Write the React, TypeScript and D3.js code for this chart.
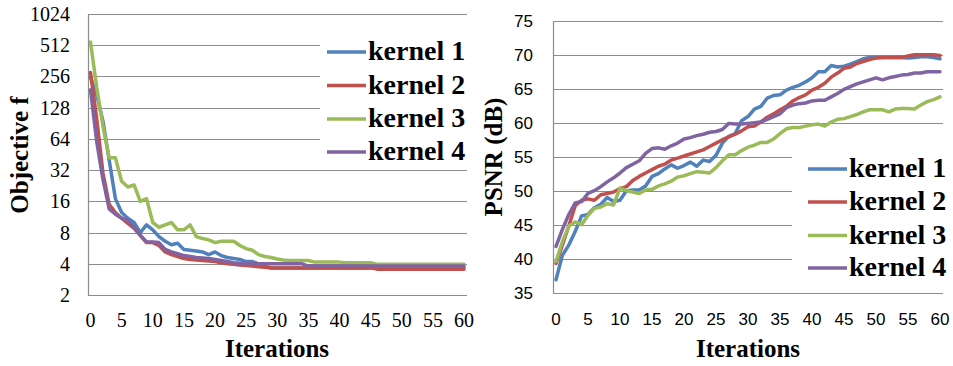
import { useEffect, useRef } from "react";
import * as d3 from "d3";

const iterations = d3.range(0, 61);
const seriesNames = ["kernel 1", "kernel 2", "kernel 3", "kernel 4"];
const seriesColors = ["#4F81BD", "#C0504D", "#9BBB59", "#8064A2"];

const iterTicks = [0, 5, 10, 15, 20, 25, 30, 35, 40, 45, 50, 55, 60];
const objTicks = [2, 4, 8, 16, 32, 64, 128, 256, 512, 1024];
const psnrTicks = [35, 40, 45, 50, 55, 60, 65, 70, 75];

// objective f, log2 axis
const objKernel1 = [
  250, 170, 95, 40, 17, 12.5, 11, 10, 8, 9.5, 8.5, 7.3, 6.6, 6.1, 6.3, 5.5, 5.4, 5.3, 5.2, 4.9,
  5.2, 4.8, 4.6, 4.5, 4.4, 4.2, 4.2, 4.0, 3.8, 3.65, 3.65, 3.65, 3.65, 3.65, 3.65, 3.65, 3.65, 3.65, 3.65, 3.65,
  3.65, 3.65, 3.65, 3.65, 3.65, 3.65, 3.7, 3.7, 3.7, 3.7, 3.7, 3.7, 3.7, 3.7, 3.7, 3.7, 3.7, 3.7, 3.7, 3.7, 3.7,
];
const objKernel2 = [
  280, 100, 30, 15, 12.5, 11, 9.8, 8.8, 7.5, 6.4, 6.4, 6.0, 5.2, 4.9, 4.7, 4.5, 4.4, 4.35, 4.3, 4.25,
  4.2, 4.1, 4.0, 3.95, 3.9, 3.85, 3.8, 3.75, 3.7, 3.65, 3.65, 3.65, 3.65, 3.65, 3.65, 3.65, 3.65, 3.65, 3.65, 3.65,
  3.65, 3.65, 3.65, 3.65, 3.65, 3.65, 3.55, 3.55, 3.55, 3.55, 3.55, 3.55, 3.55, 3.55, 3.55, 3.55, 3.55, 3.55, 3.55, 3.55, 3.55,
];
const objKernel3 = [
  550, 200, 85, 42, 42, 25, 22, 23, 16, 17, 10, 9, 9.5, 10, 8.5, 8.5, 9.5, 7.3, 7.0, 6.8,
  6.4, 6.6, 6.6, 6.6, 6.0, 5.6, 5.4, 4.9, 4.7, 4.6, 4.45, 4.35, 4.3, 4.3, 4.3, 4.3, 4.15, 4.15, 4.15, 4.15,
  4.15, 4.1, 4.1, 4.1, 4.1, 4.1, 3.95, 3.95, 3.95, 3.95, 3.95, 3.95, 3.95, 3.95, 3.95, 3.95, 3.95, 3.95, 3.95, 3.95, 3.95,
];
const objKernel4 = [
  190, 60, 26, 13.5, 12, 11, 10.5, 9, 7.5, 6.5, 6.5, 6.4, 5.5, 5.2, 5.0, 4.8, 4.7, 4.6, 4.55, 4.5,
  4.4, 4.3, 4.2, 4.1, 4.05, 4.0, 4.0, 4.0, 4.0, 4.0, 4.0, 4.0, 4.0, 4.0, 4.0, 3.8, 3.8, 3.8, 3.8, 3.8,
  3.8, 3.8, 3.8, 3.8, 3.8, 3.8, 3.8, 3.8, 3.8, 3.8, 3.8, 3.8, 3.8, 3.8, 3.8, 3.8, 3.8, 3.8, 3.8, 3.8, 3.8,
];

// PSNR (dB)
const psnrKernel1 = [
  36.9, 40.5, 42, 44, 46.3, 46.5, 47.5, 48, 49, 48.4, 48.6, 50, 50.1, 50.1, 50.7, 52.1, 52.5, 53.2, 53.8, 53.3,
  53.7, 54.2, 53.6, 54.5, 54.3, 55.2, 57, 58, 58.4, 60.3, 60.9, 62, 62.4, 63.6, 64, 64.1, 64.8, 65.2, 65.5, 66,
  66.6, 67.5, 67.5, 68.4, 68.2, 68.3, 68.6, 69, 69.4, 69.6, 69.6, 69.6, 69.6, 69.6, 69.6, 69.5, 69.6, 69.7, 69.7, 69.6, 69.4,
];
const psnrKernel2 = [
  39.3, 42, 44.8, 47.8, 48.6, 48.8, 48.6, 49.4, 49.6, 49.8, 50.3, 50.6, 51.5, 52.1, 52.6, 53.1, 53.6, 53.9, 54.5, 54.8,
  55.1, 55.4, 55.7, 56, 56.5, 57, 57.5, 57.9, 58.3, 58.8, 59.4, 59.5, 60.1, 60.8, 61.3, 61.9, 62.4, 63.2, 63.7, 64.1,
  64.8, 65.2, 65.8, 66.7, 67.3, 68, 68.2, 68.7, 69, 69.3, 69.5, 69.6, 69.6, 69.6, 69.6, 69.8, 70, 70, 70, 70, 69.9,
];
const psnrKernel3 = [
  39.6, 42.5, 44.8, 45.4, 45, 46.4, 47.4, 47.6, 48.1, 47.9, 50.4, 50, 49.8, 49.6, 50.1, 50.2, 50.7, 51, 51.4, 52,
  52.2, 52.5, 52.8, 52.7, 52.6, 53.4, 54.4, 55.3, 55.3, 55.9, 56.4, 56.7, 57.1, 57.1, 57.6, 58.4, 59.1, 59.3, 59.3, 59.5,
  59.7, 59.8, 59.5, 60.1, 60.5, 60.6, 60.9, 61.2, 61.6, 61.9, 61.9, 61.9, 61.6, 62, 62.1, 62.1, 62, 62.6, 63.1, 63.4, 63.8,
];
const psnrKernel4 = [
  41.8, 44.3, 46.5, 48.2, 48.4, 49.6, 50, 50.6, 51.3, 51.9, 52.6, 53.4, 53.9, 54.4, 55.5, 56.2, 56.3, 56.1, 56.6, 57,
  57.6, 57.8, 58.1, 58.3, 58.6, 58.7, 59, 59.9, 59.8, 59.8, 59.9, 60, 60.1, 60.5, 60.9, 61.3, 62.2, 62.6, 62.8, 62.9,
  63.2, 63.3, 63.3, 63.8, 64.3, 64.9, 65.3, 65.7, 66, 66.3, 66.6, 66.3, 66.6, 66.8, 67, 67.1, 67.3, 67.3, 67.5, 67.5, 67.5,
];

const SERIF = "'Liberation Serif', 'Times New Roman', serif";
const SANS = "'Liberation Sans', Arial, sans-serif";
const GRID = "#8c8c8c";

type Panel = {
  x: d3.ScaleLinear<number, number>;
  y: d3.ScaleContinuousNumeric<number, number>;
  plotLeft: number;
  plotRight: number;
  yTicks: number[];
  tickFont: string;
  tickSize: number;
  yLabelX: number;
  xLabelY: number;
  series: number[][];
  yTitle: string;
  yTitleX: number;
  yTitleY: number;
  xTitleX: number;
  legendBox: [number, number, number, number];
  legendLineX: [number, number];
  legendY: number[];
};

function drawPanel(svg: d3.Selection<SVGSVGElement, unknown, null, undefined>, p: Panel) {
  const g = svg.append("g");
  const yMin = p.y(p.yTicks[0]);
  const yMax = p.y(p.yTicks[p.yTicks.length - 1]);

  g.selectAll("line.grid")
    .data(p.yTicks)
    .enter()
    .append("line")
    .attr("x1", p.plotLeft)
    .attr("x2", p.plotRight)
    .attr("y1", (d) => Math.round(p.y(d)) + 0.5)
    .attr("y2", (d) => Math.round(p.y(d)) + 0.5)
    .attr("stroke", GRID)
    .attr("stroke-width", 1.2);

  g.append("line")
    .attr("x1", p.plotLeft + 0.5)
    .attr("x2", p.plotLeft + 0.5)
    .attr("y1", Math.round(yMax))
    .attr("y2", Math.round(yMin) + 1)
    .attr("stroke", GRID)
    .attr("stroke-width", 1.2);

  g.selectAll("text.ytick")
    .data(p.yTicks)
    .enter()
    .append("text")
    .attr("x", p.yLabelX)
    .attr("y", (d) => p.y(d))
    .attr("dy", "0.35em")
    .attr("text-anchor", "end")
    .attr("font-family", p.tickFont)
    .attr("font-size", p.tickSize)
    .text((d) => String(d));

  g.selectAll("text.xtick")
    .data(iterTicks)
    .enter()
    .append("text")
    .attr("x", (d) => p.x(d))
    .attr("y", p.xLabelY)
    .attr("text-anchor", "middle")
    .attr("font-family", p.tickFont)
    .attr("font-size", p.tickSize)
    .text((d) => String(d));

  const line = d3
    .line<number>()
    .x((_, i) => p.x(iterations[i]))
    .y((d) => p.y(d));

  p.series.forEach((s, i) => {
    g.append("path")
      .attr("d", line(s))
      .attr("fill", "none")
      .attr("stroke", seriesColors[i])
      .attr("stroke-width", 3.5)
      .attr("stroke-linejoin", "round")
      .attr("stroke-linecap", "round");
  });

  // titles
  g.append("text")
    .attr("transform", `translate(${p.yTitleX},${p.yTitleY}) rotate(-90)`)
    .attr("text-anchor", "middle")
    .attr("font-family", SERIF)
    .attr("font-weight", "bold")
    .attr("font-size", 25)
    .text(p.yTitle);

  g.append("text")
    .attr("x", p.xTitleX)
    .attr("y", 357)
    .attr("text-anchor", "middle")
    .attr("font-family", SERIF)
    .attr("font-weight", "bold")
    .attr("font-size", 25)
    .text("Iterations");

  // legend
  const [bx, by, bw, bh] = p.legendBox;
  g.append("rect").attr("x", bx).attr("y", by).attr("width", bw).attr("height", bh).attr("fill", "white");
  seriesNames.forEach((name, i) => {
    const ly = p.legendY[i];
    g.append("line")
      .attr("x1", p.legendLineX[0])
      .attr("x2", p.legendLineX[1])
      .attr("y1", ly - 8)
      .attr("y2", ly - 8)
      .attr("stroke", seriesColors[i])
      .attr("stroke-width", 3.5);
    g.append("text")
      .attr("x", p.legendLineX[1] + 2)
      .attr("y", ly)
      .attr("font-family", SERIF)
      .attr("font-weight", "bold")
      .attr("font-size", 28)
      .text(name);
  });
}

const App: React.FC = () => {
  const ref = useRef<SVGSVGElement>(null);

  useEffect(() => {
    if (!ref.current) return;
    const svg = d3.select(ref.current);

    drawPanel(svg, {
      x: d3.scaleLinear().domain([0, 60]).range([90.5, 464]),
      y: d3.scaleLog().base(2).domain([2, 1024]).range([295, 14]),
      plotLeft: 88,
      plotRight: 467,
      yTicks: objTicks,
      tickFont: SERIF,
      tickSize: 20,
      yLabelX: 70,
      xLabelY: 327,
      series: [objKernel1, objKernel2, objKernel3, objKernel4],
      yTitle: "Objective f",
      yTitleX: 28,
      yTitleY: 155,
      xTitleX: 277,
      legendBox: [320, 20, 150, 146],
      legendLineX: [327, 366],
      legendY: [60, 93.5, 127, 160],
    });

    drawPanel(svg, {
      x: d3.scaleLinear().domain([0, 60]).range([556, 940]),
      y: d3.scaleLinear().domain([35, 75]).range([292.7, 20.7]),
      plotLeft: 553,
      plotRight: 943,
      yTicks: psnrTicks,
      tickFont: SANS,
      tickSize: 17,
      yLabelX: 533,
      xLabelY: 325,
      series: [psnrKernel1, psnrKernel2, psnrKernel3, psnrKernel4],
      yTitle: "PSNR (dB)",
      yTitleX: 502,
      yTitleY: 157,
      xTitleX: 748,
      legendBox: [792, 140, 155, 146],
      legendLineX: [808, 847],
      legendY: [177, 210, 243.5, 276],
    });

    return () => {
      svg.selectAll("*").remove();
    };
  }, []);

  return (
    <svg
      ref={ref}
      width={953}
      height={366}
      style={{ position: "absolute", left: 0, top: 0, background: "white" }}
    />
  );
};

export default App;
